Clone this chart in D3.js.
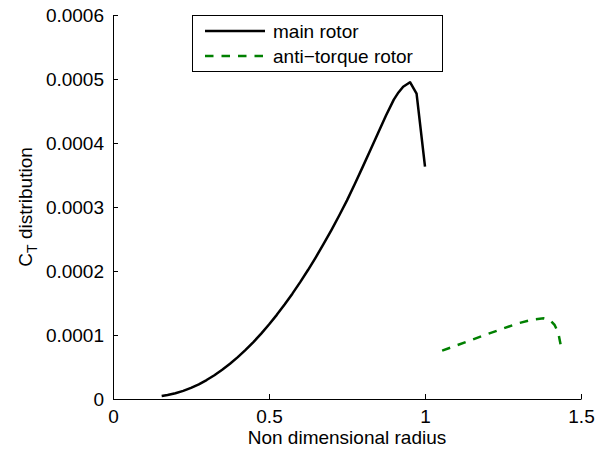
<!DOCTYPE html>
<html>
<head>
<meta charset="utf-8">
<script src="https://cdn.jsdelivr.net/npm/d3@7"></script>
<style>
  html, body { margin: 0; padding: 0; background: #fff; }
  svg text { font-family: "Liberation Sans", Arial, Helvetica, sans-serif; fill: #000; }
</style>
</head>
<body>
<svg id="chart" width="605" height="450"></svg>
<script>
// Thrust coefficient distribution along the blade (non dimensional radius)
const mainR  = [0.156, 0.175, 0.2, 0.225, 0.25, 0.275, 0.3, 0.325, 0.35, 0.375, 0.4, 0.425, 0.45, 0.475,
                0.5, 0.525, 0.55, 0.575, 0.6, 0.625, 0.65, 0.675, 0.7, 0.725, 0.75, 0.775, 0.8, 0.825,
                0.85, 0.875, 0.9, 0.915, 0.93, 0.952, 0.973, 1.0];
const mainCT = [0.0000047, 0.0000062, 0.0000090, 0.0000127, 0.0000174, 0.0000230, 0.0000296, 0.0000371,
                0.0000456, 0.0000550, 0.0000654, 0.0000767, 0.0000890, 0.0001022, 0.0001164, 0.0001315,
                0.0001476, 0.0001646, 0.0001826, 0.0002015, 0.0002214, 0.0002422, 0.0002640, 0.0002867,
                0.0003104, 0.0003360, 0.0003623, 0.0003891, 0.0004161, 0.0004429, 0.0004677, 0.0004790,
                0.0004880, 0.0004950, 0.0004770, 0.0003630];

const tailR  = [1.055, 1.1, 1.15, 1.2, 1.25, 1.3, 1.35, 1.38, 1.4, 1.415, 1.427, 1.436];
const tailCT = [0.0000755, 0.0000835, 0.0000925, 0.0001015, 0.000110, 0.0001185, 0.0001245, 0.000126, 0.0001235, 0.000116, 0.000104, 0.0000815];

const xTicks = [0, 0.5, 1, 1.5];
const xTickLabels = ["0", "0.5", "1", "1.5"];
const yTicks = [0, 0.0001, 0.0002, 0.0003, 0.0004, 0.0005, 0.0006];
const yTickLabels = ["0", "0.0001", "0.0002", "0.0003", "0.0004", "0.0005", "0.0006"];
const seriesNames = ["main rotor", "anti\u2212torque rotor"];

const svg = d3.select("#chart");
const fontSize = 19;

const x = d3.scaleLinear().domain([0, 1.5]).range([113, 581]);
const y = d3.scaleLinear().domain([0, 0.0006]).range([399, 15]);

// Axes (ticks point inward)
const xAxis = d3.axisBottom(x).tickValues(xTicks)
  .tickFormat((d, i) => xTickLabels[i]).tickSizeInner(-5).tickSizeOuter(0).tickPadding(10);
const yAxis = d3.axisLeft(y).tickValues(yTicks)
  .tickFormat((d, i) => yTickLabels[i]).tickSizeInner(-5).tickSizeOuter(0).tickPadding(9);

const gx = svg.append("g").attr("transform", `translate(0,${y(0)})`).call(xAxis);
const gy = svg.append("g").attr("transform", `translate(${x(0)},0)`).call(yAxis);
[gx, gy].forEach(g => {
  g.select(".domain").attr("stroke", "#000").attr("stroke-width", 1);
  g.selectAll(".tick line").attr("stroke", "#000").attr("stroke-width", 1);
  g.selectAll(".tick text").attr("font-size", fontSize).attr("fill", "#000")
    .attr("font-family", "Liberation Sans, Arial, sans-serif");
});
gx.selectAll(".tick text").attr("dy", "0.72em");
gy.selectAll(".tick text").attr("dy", "0.35em");

// Axis titles
svg.append("text")
  .attr("x", (x(0) + x(1.5)) / 2).attr("y", 444)
  .attr("text-anchor", "middle").attr("font-size", fontSize)
  .text("Non dimensional radius");

const yl = svg.append("text")
  .attr("transform", `translate(32,${(y(0) + y(0.0006)) / 2}) rotate(-90)`)
  .attr("text-anchor", "middle").attr("font-size", fontSize);
yl.append("tspan").text("C");
yl.append("tspan").attr("font-size", fontSize * 0.75).attr("dy", 5).text("T");
yl.append("tspan").attr("dy", -5).text(" distribution");

// Curves
const line = d3.line().x(d => x(d[0])).y(d => y(d[1]));
const mainData = mainR.map((r, i) => [r, mainCT[i]]);
const tailData = tailR.map((r, i) => [r, tailCT[i]]);

svg.append("path").datum(mainData).attr("d", line)
  .attr("fill", "none").attr("stroke", "#000").attr("stroke-width", 2.5)
  .attr("stroke-linejoin", "round");
svg.append("path").datum(tailData).attr("d", line)
  .attr("fill", "none").attr("stroke", "#008000").attr("stroke-width", 2.5)
  .attr("stroke-dasharray", "8.5,8");

// Legend
const leg = svg.append("g");
leg.append("rect").attr("x", 192.5).attr("y", 15.5).attr("width", 250).attr("height", 56)
  .attr("fill", "#fff").attr("stroke", "#000").attr("stroke-width", 1);
const styles = [{ c: "#000", dash: null }, { c: "#008000", dash: "8.5,8" }];
seriesNames.forEach((name, i) => {
  const ly = 31 + i * 25;
  leg.append("line").attr("x1", 205).attr("x2", 265).attr("y1", ly).attr("y2", ly)
    .attr("stroke", styles[i].c).attr("stroke-width", 2.5)
    .attr("stroke-dasharray", styles[i].dash);
  leg.append("text").attr("x", 273).attr("y", ly).attr("dy", "0.35em")
    .attr("font-size", fontSize).text(name);
});
</script>
</body>
</html>
